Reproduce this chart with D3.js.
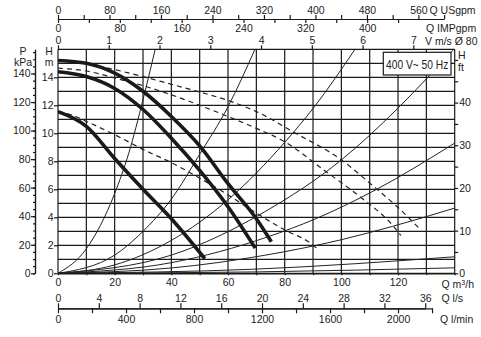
<!DOCTYPE html>
<html>
<head>
<meta charset="utf-8">
<script src="https://cdn.jsdelivr.net/npm/d3@7/dist/d3.min.js"></script>
<style>
body { margin: 0; background: #fff; }
svg text { font-family: "Liberation Sans", Arial, sans-serif; fill: #222; }
</style>
</head>
<body>
<script>
// pump curves: [Q m3/h, H m]
var speedHigh = [[0, 15.2], [10, 15.0], [20, 14.3], [30, 13.0], [40, 11.2], [50, 9.1], [60, 6.4], [70, 3.9], [75.3, 2.25]];
var speedMid = [[0, 14.4], [10, 14.05], [20, 13.2], [30, 11.7], [40, 9.65], [50, 7.35], [60, 4.75], [69.6, 1.8]];
var speedLow = [[0, 11.55], [10, 10.5], [20, 8.2], [30, 6.0], [40, 3.9], [51.8, 1.05]];

// dashed curves
var dashedHigh = [[8, 15.05], [20, 14.55], [30, 14.05], [40, 13.5], [50, 12.95], [60, 12.35], [70, 11.55], [83, 10.1], [100, 8.1], [112, 6.1], [120, 4.7], [128, 3.1]];
var dashedMid = [[0, 14.65], [10, 14.45], [20, 13.95], [30, 13.4], [40, 12.75], [50, 12.0], [60, 11.2], [70, 10.35], [80, 9.4], [94, 7.35], [107, 5.4], [118, 3.45], [121, 2.7]];
var dashedLow = [[0, 11.55], [5, 11.3], [10, 10.85], [20, 9.9], [30, 8.85], [40, 7.9], [50, 6.8], [60, 5.6], [70, 4.3], [80, 3.1], [88, 2.3], [92, 1.7]];

// thin system curves through the origin
var system1 = [[0, 0], [10, 1.75], [20, 5.7], [25, 8.6], [30, 12.4], [34.3, 16]];
var system2 = [[0, 0], [20, 1.3], [30, 3.0], [40, 5.3], [50, 8.5], [60, 11.9], [69.5, 16]];
var system3 = [[0, 0], [20, 0.6], [40, 2.35], [60, 5.25], [80, 9.35], [90.5, 11.9], [104.8, 16]];
var system4 = [[0, 0], [40, 1.3], [73, 4.4], [100, 8.1], [120, 11.8], [131, 14.1], [139.7, 16]];
var system5 = [[0, 0], [40, 0.76], [74, 2.6], [91, 3.9], [112, 5.95], [140, 9.3]];
var system6 = [[0, 0], [40, 0.38], [73, 1.29], [100, 2.4], [118, 3.35], [140, 4.66]];
var system7 = [[0, 0], [70, 0.3], [140, 1.18]];
var system8 = [[0, 0], [70, 0.1], [140, 0.39]];

// tick values
var usgpmTicks = [0, 40, 80, 120, 160, 200, 240, 280, 320, 360, 400, 440, 480, 520, 560, 600];
var usgpmLabels = [0, 80, 160, 240, 320, 400, 480, 560];
var impTicks = [0, 40, 80, 120, 160, 200, 240, 280, 320, 360, 400, 440];
var impLabels = [0, 80, 160, 240, 320, 400];
var velTicks = [0, 1, 2, 3, 4, 5, 6, 7];
var m3hTicks = [0, 10, 20, 30, 40, 50, 60, 70, 80, 90, 100, 110, 120, 130, 140];
var m3hLabels = [0, 20, 40, 60, 80, 100, 120];
var lsTicks = [0, 4, 8, 12, 16, 20, 24, 28, 32, 36];
var lminTicks = [0, 200, 400, 600, 800, 1000, 1200, 1400, 1600, 1800, 2000, 2200];
var lminLabels = [0, 400, 800, 1200, 1600, 2000];
var hTicks = [0, 2, 4, 6, 8, 10, 12, 14];
var kpaTicks = [0, 20, 40, 60, 80, 100, 120, 140];
var kpaMinor = d3.range(0, 156, 5);
var ftTicks = [0, 5, 10, 15, 20, 25, 30, 35, 40, 45, 50];
var ftLabels = [0, 10, 20, 30, 40];

// unit conversions to m3/h and m
var usgpmToM3h = 0.22712;
var impToM3h = 0.27277;
var lsToM3h = 3.6;
var lminToM3h = 0.06;
var velToM3h = Math.PI / 4 * 0.0796 * 0.0796 * 3600;
var kpaToM = 1 / 9.81;
var ftToM = 0.3048;

var width = 481;
var height = 337;
var fontSize = "10.5px";
var ink = "#1a1a1a";

var svg = d3.select("body").append("svg")
    .attr("width", width)
    .attr("height", height);

var x = d3.scaleLinear().domain([0, 140]).range([58, 454.7]);
var y = d3.scaleLinear().domain([0, 16]).range([273.3, 49.3]);

svg.append("defs").append("clipPath").attr("id", "plot-clip")
    .append("rect")
    .attr("x", x(0)).attr("y", y(16))
    .attr("width", x(140) - x(0)).attr("height", y(0) - y(16));

// grid
var grid = svg.append("g").attr("stroke", ink).attr("stroke-width", 1.2);
grid.selectAll(".vline").data(m3hTicks).enter().append("line")
    .attr("x1", function(d) { return x(d); }).attr("x2", function(d) { return x(d); })
    .attr("y1", y(0)).attr("y2", y(16));
grid.selectAll(".hline").data(d3.range(0, 17)).enter().append("line")
    .attr("x1", x(0)).attr("x2", x(140))
    .attr("y1", function(d) { return y(d); }).attr("y2", function(d) { return y(d); });

function styleAxis(g) {
    g.selectAll("path.domain").attr("stroke", ink).attr("stroke-width", 1.2);
    g.selectAll(".tick line").attr("stroke", ink).attr("stroke-width", 1.2);
    g.selectAll("text").attr("font-size", fontSize).attr("fill", "#222")
        .style("font-family", "'Liberation Sans', Arial, sans-serif");
    // drop the empty labels of unlabelled ticks
    g.selectAll("text").filter(function() { return this.textContent === ""; }).remove();
}

function labelIf(list) {
    return function(d) { return list.indexOf(d) >= 0 ? d : ""; };
}

// top flow axes: US gpm above, IMP gpm below
var usgpm = d3.scaleLinear().domain([0, 600]).range([x(0), x(600 * usgpmToM3h)]);
svg.append("g").attr("transform", "translate(0,19)")
    .call(d3.axisTop(usgpm).tickValues(usgpmTicks).tickFormat(labelIf(usgpmLabels)).tickSize(4).tickPadding(1).tickSizeOuter(0))
    .call(styleAxis);

var imp = d3.scaleLinear().domain([0, 440]).range([x(0), x(440 * impToM3h)]);
svg.append("g").attr("transform", "translate(0,19)")
    .call(d3.axisBottom(imp).tickValues(impTicks).tickFormat(labelIf(impLabels)).tickSize(4).tickPadding(1.5).tickSizeOuter(0))
    .call(styleAxis);

// velocity axis on the frame top
var vel = d3.scaleLinear().domain([0, 7]).range([x(0), x(7 * velToM3h)]);
svg.append("g").attr("transform", "translate(0," + y(16) + ")")
    .call(d3.axisTop(vel).tickValues(velTicks).tickFormat(d3.format("d")).tickSize(4).tickPadding(1).tickSizeOuter(0))
    .call(styleAxis)
    .select("path.domain").remove();

// bottom axes
svg.append("g").attr("transform", "translate(0," + y(0) + ")")
    .call(d3.axisBottom(x).tickValues(m3hTicks).tickFormat(labelIf(m3hLabels)).tickSize(2).tickPadding(3.5).tickSizeOuter(0))
    .call(styleAxis);

var ls = d3.scaleLinear().domain([0, 36]).range([x(0), x(36 * lsToM3h)]);
svg.append("g").attr("transform", "translate(0,308.3)")
    .call(d3.axisTop(ls).tickValues(lsTicks).tickSize(5).tickPadding(1.5).tickSizeOuter(0))
    .call(styleAxis);

var lmin = d3.scaleLinear().domain([0, 2200]).range([x(0), x(2200 * lminToM3h)]);
svg.append("g").attr("transform", "translate(0,308.3)")
    .call(d3.axisBottom(lmin).tickValues(lminTicks).tickFormat(labelIf(lminLabels)).tickSize(5).tickPadding(2).tickSizeOuter(0))
    .call(styleAxis);

// left H (m) axis
svg.append("g").attr("transform", "translate(" + x(0) + ",0)")
    .call(d3.axisLeft(y).tickValues(hTicks).tickSize(4).tickPadding(0.5).tickSizeOuter(0))
    .call(styleAxis)
    .select("path.domain").remove();

// kPa axis
var kpa = d3.scaleLinear().domain([0, 16 / kpaToM]).range([y(0), y(16)]);
svg.append("g").attr("transform", "translate(35,0)")
    .call(d3.axisLeft(kpa).tickValues(kpaMinor).tickFormat("").tickSize(2).tickSizeOuter(0))
    .call(styleAxis);
svg.append("g").attr("transform", "translate(35,0)")
    .call(d3.axisLeft(kpa).tickValues(kpaTicks).tickSize(4).tickPadding(0.5).tickSizeOuter(0))
    .call(styleAxis);

// right ft axis
var ft = d3.scaleLinear().domain([0, 16 / ftToM]).range([y(0), y(16)]);
svg.append("g").attr("transform", "translate(" + x(140) + ",0)")
    .call(d3.axisRight(ft).tickValues(ftTicks).tickFormat(labelIf(ftLabels)).tickSize(3.5).tickPadding(1).tickSizeOuter(0))
    .call(styleAxis)
    .select("path.domain").remove();

// curves
var line = d3.line()
    .x(function(d) { return x(d[0]); })
    .y(function(d) { return y(d[1]); })
    .curve(d3.curveMonotoneX);

var curves = svg.append("g").attr("clip-path", "url(#plot-clip)").attr("fill", "none");

[system1, system2, system3, system4, system5, system6, system7, system8].forEach(function(s) {
    curves.append("path").attr("d", line(s))
        .attr("stroke", "#222").attr("stroke-width", 1);
});

[dashedHigh, dashedMid, dashedLow].forEach(function(s) {
    curves.append("path").attr("d", line(s))
        .attr("stroke", "#222").attr("stroke-width", 1.2)
        .attr("stroke-dasharray", "5,4");
});

[speedHigh, speedMid, speedLow].forEach(function(s) {
    curves.append("path").attr("d", line(s))
        .attr("stroke", "#1a1a1a").attr("stroke-width", 3.6)
        .attr("stroke-linecap", "butt");
});

// legend box, narrow lettering like the original
svg.append("rect")
    .attr("x", 383.3).attr("y", 52.3).attr("width", 67.7).attr("height", 22.7)
    .attr("fill", "#fff").attr("stroke", ink).attr("stroke-width", 1.2);
svg.append("text")
    .attr("transform", "translate(386,69) scale(0.76,1)")
    .attr("font-size", "13.5px")
    .text("400 V~ 50 Hz");

// unit labels
function label(tx, ty, txt, anchor) {
    return svg.append("text")
        .attr("x", tx).attr("y", ty)
        .attr("font-size", fontSize)
        .attr("text-anchor", anchor || "start")
        .text(txt);
}

label(23, 54.5, "P", "middle");
label(23, 65.5, "kPa", "middle");
label(49, 54.5, "H", "middle");
label(49, 65.5, "m", "middle");
label(458, 58.5, "H", "start");
label(458, 70.5, "ft", "start");

label(429.5, 14, "Q USgpm");
label(426, 32, "Q IMPgpm");
label(425, 44.5, "V m/s \u00d8 80");

var m3hLabel = label(441.5, 288, "Q m");
m3hLabel.append("tspan").attr("font-size", "7px").attr("dy", -3.5).text("3");
m3hLabel.append("tspan").attr("dy", 3.5).text("/h");
label(441.5, 302, "Q l/s");
label(440, 323, "Q l/min");
</script>
</body>
</html>
